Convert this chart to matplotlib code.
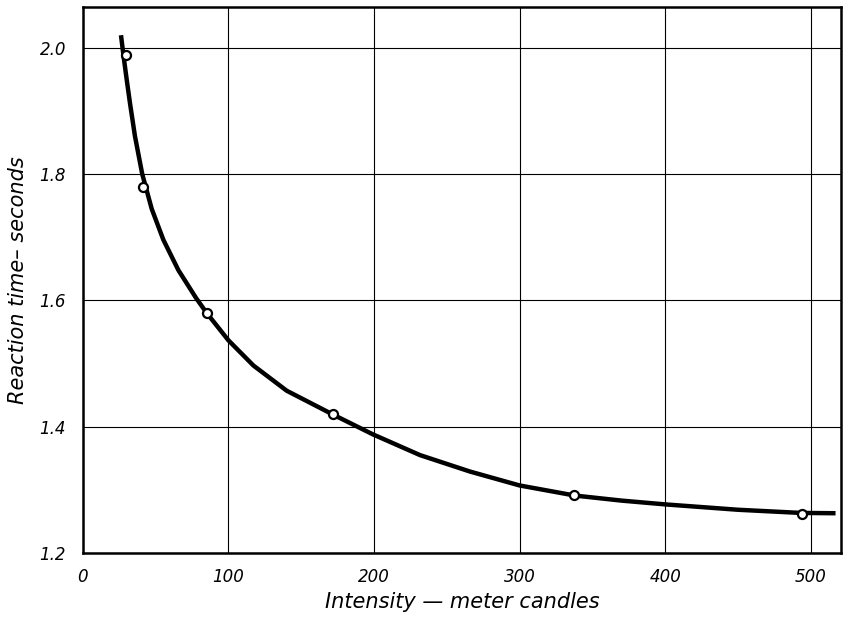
import matplotlib
matplotlib.use("Agg")
import matplotlib.pyplot as plt

# observed points (intensity in meter candles, reaction time in seconds)
intensity = [29.7, 41.6, 85.1, 172.1, 337.6, 493.8]
reaction = [1.989, 1.779, 1.580, 1.420, 1.292, 1.262]

# smooth curve as drawn
curve_x = [26.3, 28.0, 30.2, 32.5, 35.9, 40.9, 47.4, 55.4, 65.7, 77.8, 85.2,
           100, 117.2, 140.1, 172.1, 199.2, 231.7, 266, 300, 338,
           370, 400, 450, 493, 517]
curve_y = [2.020, 1.988, 1.950, 1.912, 1.860, 1.800, 1.745, 1.696, 1.648, 1.604,
           1.580, 1.537, 1.497, 1.457, 1.419, 1.388, 1.355, 1.329, 1.307,
           1.291, 1.283, 1.277, 1.2685, 1.2635, 1.263]

xticks = [0, 100, 200, 300, 400, 500]
yticks = [1.2, 1.4, 1.6, 1.8, 2.0]
ytick_labels = ["1.2", "1.4", "1.6", "1.8", "2.0"]

fig = plt.figure(figsize=(8.49, 6.19), dpi=100)
ax = fig.add_axes([0.0974, 0.1066, 0.8936, 0.8814])

ax.plot(curve_x, curve_y, color="black", linewidth=3.2, solid_capstyle="butt",
        solid_joinstyle="round", zorder=3)
ax.plot(intensity, reaction, linestyle="none", marker="o", markersize=6.5,
        markerfacecolor="white", markeredgecolor="black", markeredgewidth=1.6, zorder=4)

ax.set_xlim(0, 521)
ax.set_ylim(1.2, 2.064)
ax.set_xticks(xticks)
ax.set_yticks(yticks)
ax.set_xticklabels([str(t) for t in xticks], fontsize=12, style="italic")
ax.set_yticklabels(ytick_labels, fontsize=12, style="italic")
ax.tick_params(length=0)
ax.tick_params(axis="x", pad=11)
ax.tick_params(axis="y", pad=12)

ax.grid(True, color="black", linewidth=0.8)
ax.set_axisbelow(True)
for s in ax.spines.values():
    s.set_linewidth(1.8)

ax.set_xlabel("Intensity \u2014 meter candles", fontsize=15, style="italic", labelpad=4)
ax.set_ylabel("Reaction time\u2013 seconds", fontsize=15, style="italic", labelpad=8)

fig.savefig("out.png", dpi=100)
